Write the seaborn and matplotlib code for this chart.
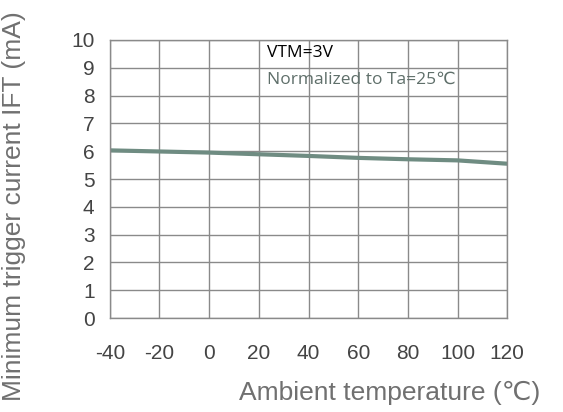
import matplotlib
matplotlib.use('Agg')
import matplotlib.pyplot as plt
import seaborn as sns
import pandas as pd

# values
temperature = [-40, -20, 0, 20, 40, 60, 80, 100, 120]
trigger_current = [6.03, 5.99, 5.95, 5.89, 5.83, 5.76, 5.71, 5.67, 5.55]
x_ticks = [-40, -20, 0, 20, 40, 60, 80, 100, 120]
y_ticks = [0, 1, 2, 3, 4, 5, 6, 7, 8, 9, 10]


def main():
    sns.set_style('white')
    plt.rcParams['font.family'] = ['Liberation Sans', 'DejaVu Sans']
    plt.rcParams['axes.unicode_minus'] = False

    df = pd.DataFrame({'temp': temperature, 'ift': trigger_current})

    fig = plt.figure(figsize=(5.63, 4.12), dpi=100)
    ax = fig.add_axes([0.195, 0.228, 0.706, 0.675])

    sns.lineplot(data=df, x='temp', y='ift', ax=ax, color='#6f8c82', linewidth=3)

    ax.set_xlim(-40, 120)
    ax.set_ylim(0, 10)
    ax.set_xticks(x_ticks)
    ax.set_yticks(y_ticks)
    ax.grid(True, color='#8a8a8a', linewidth=1)
    for s in ax.spines.values():
        s.set_color('#8a8a8a')
        s.set_linewidth(1)
    ax.tick_params(axis='both', length=0, labelsize=15, colors='#444444')
    ax.tick_params(axis='x', pad=19)
    ax.tick_params(axis='y', pad=11)
    ax.set_xlabel('')
    ax.set_ylabel('')

    fig.text(0.025, 0.5, 'Minimum trigger current IFT (mA)', rotation=90,
             ha='center', va='center', fontsize=19, color='#707070')
    fig.text(0.425, 0.046, 'Ambient temperature (℃)', ha='left', va='center',
             fontsize=19, color='#707070', family=['Liberation Sans', 'DejaVu Sans'])

    ax.text(0.395, 0.953, 'VTM=3V', transform=ax.transAxes, ha='left', va='center',
            fontsize=12.5, color='black', family=['Open Sans', 'DejaVu Sans'])
    ax.text(0.395, 0.856, 'Normalized to Ta=25℃', transform=ax.transAxes, ha='left', va='center',
            fontsize=12.5, color='#5f6f6a', family=['Open Sans', 'DejaVu Sans'])

    fig.savefig('out.png', dpi=100)


if __name__ == '__main__':
    main()
